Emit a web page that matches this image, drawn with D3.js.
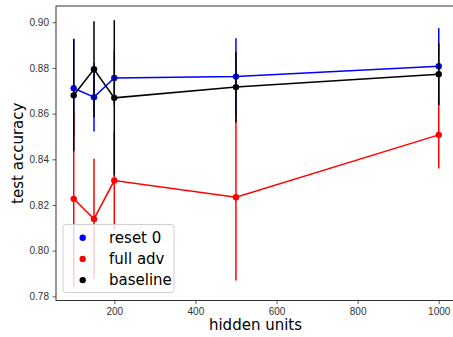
<!DOCTYPE html>
<html>
<head>
<meta charset="utf-8">
<script src="https://cdn.jsdelivr.net/npm/d3@7"></script>
<style>
  body { margin: 0; background: #fff; }
  svg { display: block; font-family: "DejaVu Sans", sans-serif; }
</style>
</head>
<body>
<svg id="chart" width="453" height="337"></svg>
<script>
const hiddenUnits = [100, 150, 200, 500, 1000];

const resetMean = [0.8711, 0.8672, 0.8756, 0.8762, 0.8807];
const resetErr = [0.0217, 0.0150, 0.0120, 0.0168, 0.0167];

const fullAdvMean = [0.8227, 0.8139, 0.8307, 0.8234, 0.8507];
const fullAdvErr = [0.0387, 0.0263, 0.0215, 0.0364, 0.0147];

const baselineMean = [0.8680, 0.8794, 0.8669, 0.8716, 0.8772];
const baselineErr = [0.0245, 0.0210, 0.0340, 0.0155, 0.0136];

const xTicks = [200, 400, 600, 800, 1000];
const yTicks = [0.78, 0.80, 0.82, 0.84, 0.86, 0.88, 0.90];

const series = [
  { name: 'reset 0', color: '#0000ff', mean: resetMean, err: resetErr },
  { name: 'full adv', color: '#ff0000', mean: fullAdvMean, err: fullAdvErr },
  { name: 'baseline', color: '#000000', mean: baselineMean, err: baselineErr },
];

const svg = d3.select('#chart');
const mLeft = 56, mRight = 457, mTop = 6, mBottom = 300.5;

const x = d3.scaleLinear().domain([56.3, 1045]).range([mLeft, mRight]);
const y = d3.scaleLinear().domain([0.7782, 0.9071]).range([mBottom, mTop]);

// axes
const xAxis = svg.append('g')
  .attr('transform', `translate(0,${mBottom})`)
  .call(d3.axisBottom(x).tickValues(xTicks).tickSize(3.5).tickPadding(3.5).tickFormat(d3.format('d')));
const yAxis = svg.append('g')
  .attr('transform', `translate(${mLeft},0)`)
  .call(d3.axisLeft(y).tickValues(yTicks).tickSize(3.5).tickPadding(3.5).tickFormat(d3.format('.2f')));

[xAxis, yAxis].forEach((g) => {
  g.select('.domain').remove();
  g.selectAll('.tick line').attr('stroke', '#333').attr('stroke-width', 0.8);
  g.selectAll('.tick text').attr('fill', '#333').style('font-size', '10px');
});

// frame
svg.append('rect')
  .attr('x', mLeft).attr('y', mTop)
  .attr('width', mRight - mLeft).attr('height', mBottom - mTop)
  .attr('fill', 'none').attr('stroke', '#333').attr('stroke-width', 1);

const line = d3.line().x((d) => x(d[0])).y((d) => y(d[1]));

series.forEach((s) => {
  const g = svg.append('g');
  const pts = hiddenUnits.map((h, i) => [h, s.mean[i], s.err[i]]);
  g.selectAll('line.err').data(pts).join('line')
    .attr('x1', (d) => x(d[0])).attr('x2', (d) => x(d[0]))
    .attr('y1', (d) => y(d[1] - d[2])).attr('y2', (d) => y(d[1] + d[2]))
    .attr('stroke', s.color).attr('stroke-width', 1.5);
  g.append('path').datum(pts).attr('d', line)
    .attr('fill', 'none').attr('stroke', s.color).attr('stroke-width', 1.5);
  g.selectAll('circle').data(pts).join('circle')
    .attr('cx', (d) => x(d[0])).attr('cy', (d) => y(d[1])).attr('r', 3.2)
    .attr('fill', s.color);
});

// legend
const leg = svg.append('g');
leg.append('rect')
  .attr('x', 63).attr('y', 224.5).attr('width', 111).attr('height', 68).attr('rx', 3)
  .attr('fill', 'rgba(255,255,255,0.8)').attr('stroke', '#d0d0d0').attr('stroke-width', 1);
series.forEach((s, i) => {
  const cy = 237.7 + i * 21.2;
  leg.append('circle').attr('cx', 82.7).attr('cy', cy).attr('r', 3.2).attr('fill', s.color);
  leg.append('text').attr('x', 109).attr('y', cy + 5.3)
    .style('font-size', '15px').attr('fill', '#000').text(s.name);
});

// axis labels
svg.append('text')
  .attr('x', (mLeft + mRight) / 2 - 1).attr('y', 330)
  .attr('text-anchor', 'middle').style('font-size', '15px').text('hidden units');
svg.append('text')
  .attr('transform', `translate(23,${(mTop + mBottom) / 2}) rotate(-90)`)
  .attr('text-anchor', 'middle').style('font-size', '15px').text('test accuracy');
</script>
</body>
</html>
